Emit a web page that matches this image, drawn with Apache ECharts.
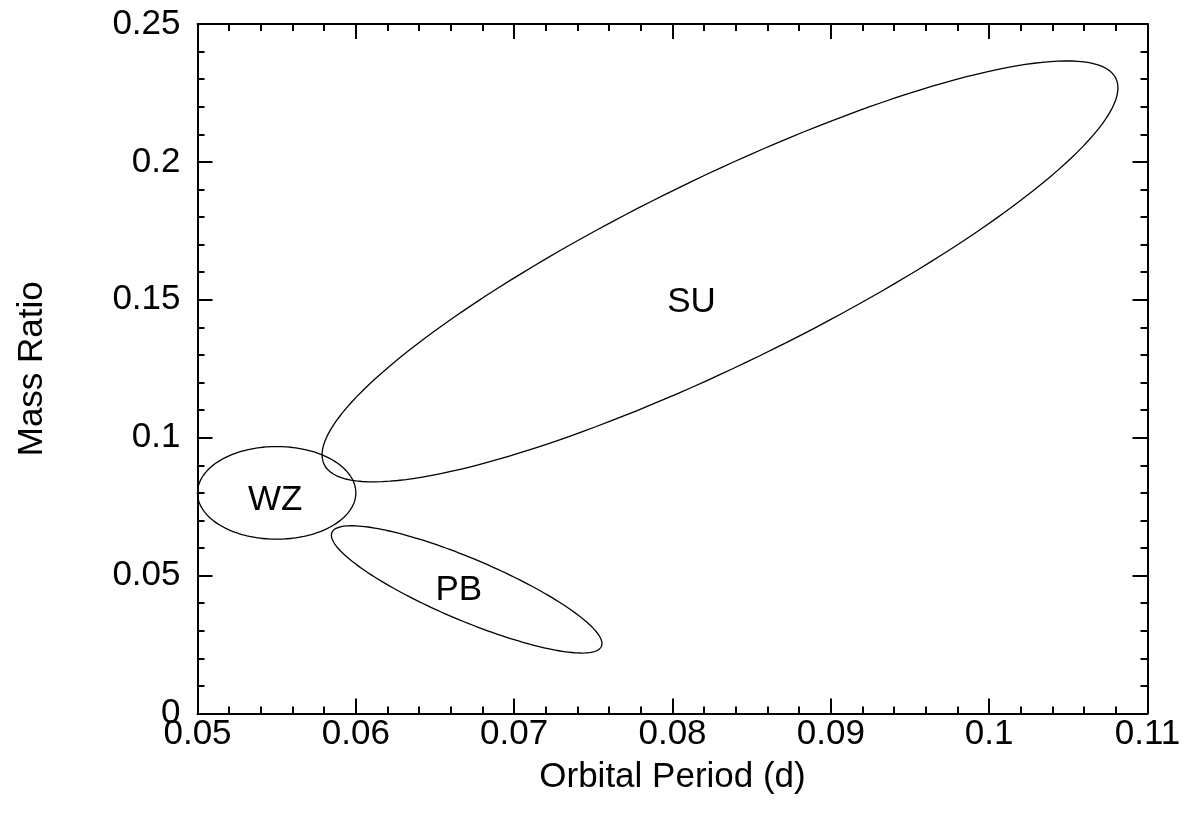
<!DOCTYPE html>
<html>
<head>
<meta charset="utf-8">
<script src="https://cdn.jsdelivr.net/npm/echarts@6/dist/echarts.min.js"></script>
<style>
html,body{margin:0;padding:0;background:#fff;}
#chart{width:1194px;height:829px;}
</style>
</head>
<body>
<div id="chart"></div>
<script>
// Regions (ellipses) in the Orbital Period / Mass Ratio plane
const regionNames   = ['SU', 'WZ', 'PB'];
const centerPeriod  = [0.0830, 0.0550, 0.0670];
const centerRatio   = [0.1603, 0.0800, 0.0450];
// first semi-diameter (period, ratio components)
const axis1Period   = [0.0250, 0.0050, 0.00851];
const axis1Ratio    = [0.0700, 0.0000, -0.02064];
// second (conjugate) semi-diameter
const axis2Period   = [0.00258, 0.0000, -0.00076];
const axis2Ratio    = [-0.0304, 0.0168, -0.01032];
// label anchor positions
const labelPeriod   = [0.0812, 0.0549, 0.0665];
const labelRatio    = [0.1490, 0.0774, 0.0448];

// axis ranges
const xMin = 0.05, xMax = 0.11, xStep = 0.01;
const yMin = 0, yMax = 0.25, yStep = 0.05;
const xTitle = 'Orbital Period (d)';
const yTitle = 'Mass Ratio';

const FONT = 'Liberation Sans, Arial, sans-serif';
const FS = 35;

const ellipseData = regionNames.map((n, i) => [
  centerPeriod[i], centerRatio[i], axis1Period[i], axis1Ratio[i], axis2Period[i], axis2Ratio[i]
]);
const labelData = regionNames.map((n, i) => [labelPeriod[i], labelRatio[i], i]);

const fmt = v => String(parseFloat(Number(v).toFixed(4)));

function axisCommon(showLabels) {
  return {
    axisLine: { show: true, onZero: false, lineStyle: { color: '#000', width: 2 } },
    axisTick: { show: true, inside: true, length: 15, lineStyle: { color: '#000', width: 2 } },
    minorTick: { show: true, splitNumber: 5, length: 7, lineStyle: { color: '#000', width: 2 } },
    splitLine: { show: false },
    minorSplitLine: { show: false },
    axisLabel: { show: showLabels, color: '#000', fontFamily: FONT, fontSize: FS, formatter: fmt }
  };
}

const chart = echarts.init(document.getElementById('chart'), null, { renderer: 'canvas' });
const option = {
  backgroundColor: '#fff',
  animation: false,
  grid: { left: 197.5, right: 46.5, top: 24, bottom: 115.5, containLabel: false },
  xAxis: [
    Object.assign({
      type: 'value', position: 'bottom', min: xMin, max: xMax, interval: xStep,
      name: xTitle, nameLocation: 'middle', nameGap: 46,
      nameTextStyle: { color: '#000', fontFamily: FONT, fontSize: FS }
    }, axisCommon(true), { axisLabel: { show: true, color: '#000', fontFamily: FONT, fontSize: FS, margin: 3, formatter: fmt } }),
    Object.assign({
      type: 'value', position: 'top', min: xMin, max: xMax, interval: xStep
    }, axisCommon(false))
  ],
  yAxis: [
    Object.assign({
      type: 'value', position: 'left', min: yMin, max: yMax, interval: yStep,
      name: yTitle, nameLocation: 'middle', nameGap: 148,
      nameTextStyle: { color: '#000', fontFamily: FONT, fontSize: FS }
    }, axisCommon(true), { axisLabel: { show: true, color: '#000', fontFamily: FONT, fontSize: FS, margin: 17, formatter: fmt } }),
    Object.assign({
      type: 'value', position: 'right', min: yMin, max: yMax, interval: yStep
    }, axisCommon(false))
  ],
  series: [
    {
      type: 'custom',
      xAxisIndex: 0, yAxisIndex: 0,
      data: ellipseData,
      encode: { x: 0, y: 1 },
      renderItem: function (params, api) {
        const cx = api.value(0), cy = api.value(1);
        const ax = api.value(2), ay = api.value(3);
        const bx = api.value(4), by = api.value(5);
        const pts = [];
        const N = 180;
        for (let k = 0; k < N; k++) {
          const t = 2 * Math.PI * k / N;
          const c = Math.cos(t), s = Math.sin(t);
          pts.push(api.coord([cx + c * ax + s * bx, cy + c * ay + s * by]));
        }
        return {
          type: 'polygon',
          shape: { points: pts },
          style: { fill: null, stroke: '#000', lineWidth: 1.3 }
        };
      },
      silent: true
    },
    {
      type: 'custom',
      xAxisIndex: 0, yAxisIndex: 0,
      data: labelData,
      encode: { x: 0, y: 1 },
      renderItem: function (params, api) {
        const p = api.coord([api.value(0), api.value(1)]);
        return {
          type: 'text',
          x: p[0], y: p[1],
          style: {
            text: regionNames[api.value(2)],
            fill: '#000',
            font: FS + 'px ' + FONT,
            align: 'center',
            verticalAlign: 'middle'
          }
        };
      },
      silent: true
    }
  ]
};
chart.setOption(option);
</script>
</body>
</html>
